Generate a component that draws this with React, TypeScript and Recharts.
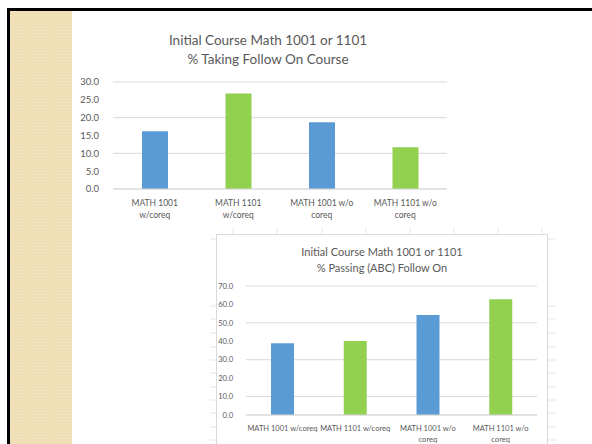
import { Bar, BarChart, CartesianGrid, XAxis, YAxis } from 'recharts'

const categoriesTop = ['MATH 1001\nw/coreq', 'MATH 1101\nw/coreq', 'MATH 1001 w/o\ncoreq', 'MATH 1101 w/o\ncoreq']
const categoriesBottom = ['MATH 1001 w/coreq', 'MATH 1101 w/coreq', 'MATH 1001 w/o\ncoreq', 'MATH 1101 w/o\ncoreq']
const takingFollowOn = [16.2, 26.8, 18.7, 11.7]
const passingFollowOn = [39.0, 40.1, 54.3, 62.8]
const topTicks = [0, 5, 10, 15, 20, 25, 30]
const bottomTicks = [0, 10, 20, 30, 40, 50, 60, 70]
const barColors = ['#5B9BD5', '#92D050', '#5B9BD5', '#92D050']

const FONT = 'Lato, "Open Sans", sans-serif'
const TEXT = '#595959'
const GRID = '#D9D9D9'

const topData = categoriesTop.map((name, i) => ({ name, v: takingFollowOn[i], fill: barColors[i] }))
const bottomData = categoriesBottom.map((name, i) => ({ name, v: passingFollowOn[i], fill: barColors[i] }))

// multi-line category label, lines split on \n
function CatTick({ x, y, payload, fontSize, lineHeight }: any) {
  const lines = String(payload.value).split('\n')
  return (
    <text x={x} y={y} textAnchor="middle" fill={TEXT} fontSize={fontSize} fontFamily={FONT}>
      {lines.map((l, i) => (
        <tspan key={i} x={x} dy={i === 0 ? fontSize : lineHeight}>
          {l}
        </tspan>
      ))}
    </text>
  )
}

// faint spreadsheet cells peeking out around the pasted second chart
const cellCols = [233, 277, 322, 366, 410, 454, 498, 542]
const cellRows = [239, 306, 319, 333, 347, 360, 373, 387, 400, 413, 427, 440]

export default function App() {
  return (
    <div
      style={{
        position: 'fixed',
        left: 0,
        top: 0,
        width: 592,
        height: 444,
        overflow: 'hidden',
        background: '#fff',
        fontFamily: FONT,
      }}
    >
      <div style={{ position: 'absolute', left: 7, top: 8, width: 600, height: 3, background: '#000' }} />
      <div style={{ position: 'absolute', left: 7, top: 8, width: 3, height: 440, background: '#000' }} />
      <div
        style={{
          position: 'absolute',
          left: 10,
          top: 11,
          width: 62,
          height: 440,
          background: '#F0E0B6',
          backgroundImage:
            'radial-gradient(rgba(255,255,255,0.22) 0.6px, transparent 0.9px), radial-gradient(rgba(190,160,100,0.10) 0.6px, transparent 0.9px)',
          backgroundSize: '3px 3px, 3px 3px',
          backgroundPosition: '0 0, 1.5px 1.5px',
        }}
      />

      {/* first chart */}
      <div
        style={{
          position: 'absolute',
          left: 68,
          top: 31,
          width: 400,
          textAlign: 'center',
          color: TEXT,
          fontSize: 13.5,
          lineHeight: '19px',
        }}
      >
        <div>Initial Course Math 1001 or 1101</div>
        <div>% Taking Follow On Course</div>
      </div>
      <div style={{ position: 'absolute', left: 72, top: 20 }}>
        <BarChart width={400} height={210} data={topData} margin={{ top: 62, right: 25, bottom: 11, left: 0 }}>
          <CartesianGrid vertical={false} stroke={GRID} />
          <XAxis
            dataKey="name"
            axisLine={{ stroke: GRID }}
            tickLine={false}
            interval={0}
            height={30}
            tick={<CatTick fontSize={8.5} lineHeight={12} />}
          />
          <YAxis
            width={41}
            domain={[0, 30]}
            ticks={topTicks}
            axisLine={false}
            tickLine={false}
            tickMargin={8}
            tickFormatter={(v: number) => v.toFixed(1)}
            tick={{ fill: TEXT, fontSize: 9.5, fontFamily: FONT }}
          />
          <Bar dataKey="v" barSize={26} isAnimationActive={false} />
        </BarChart>
      </div>

      {/* faint cell grid behind second chart */}
      <svg style={{ position: 'absolute', left: 0, top: 0 }} width={592} height={444}>
        {cellCols.map((x) => (
          <line key={'c' + x} x1={x} x2={x} y1={228} y2={235} stroke="#E6E6E6" />
        ))}
        {cellRows.map((y) => (
          <g key={'r' + y}>
            <line x1={210} x2={217} y1={y} y2={y} stroke="#E6E6E6" />
            <line x1={547} x2={556} y1={y} y2={y} stroke="#E6E6E6" />
          </g>
        ))}
      </svg>

      {/* second chart */}
      <div
        style={{
          position: 'absolute',
          left: 216,
          top: 234,
          width: 330,
          height: 230,
          border: '1px solid ' + GRID,
          background: '#fff',
        }}
      >
        <div
          style={{
            position: 'absolute',
            left: 0,
            top: 9,
            width: 330,
            textAlign: 'center',
            color: TEXT,
            fontSize: 11,
            lineHeight: '16px',
          }}
        >
          <div>Initial Course Math 1001 or 1101</div>
          <div>% Passing (ABC) Follow On</div>
        </div>
        <div style={{ position: 'absolute', left: 0, top: 0 }}>
          <BarChart width={330} height={220} data={bottomData} margin={{ top: 51, right: 10, bottom: 10, left: 0 }}>
            <CartesianGrid vertical={false} stroke={GRID} />
            <XAxis
              dataKey="name"
              axisLine={{ stroke: GRID }}
              tickLine={false}
              interval={0}
              height={30}
              tick={<CatTick fontSize={7.5} lineHeight={11} />}
            />
            <YAxis
              width={29}
              domain={[0, 70]}
              ticks={bottomTicks}
              axisLine={false}
              tickLine={false}
              tickMargin={7}
              tickFormatter={(v: number) => v.toFixed(1)}
              tick={{ fill: TEXT, fontSize: 7.5, fontFamily: FONT }}
            />
            <Bar dataKey="v" barSize={23} isAnimationActive={false} />
          </BarChart>
        </div>
      </div>
    </div>
  )
}
